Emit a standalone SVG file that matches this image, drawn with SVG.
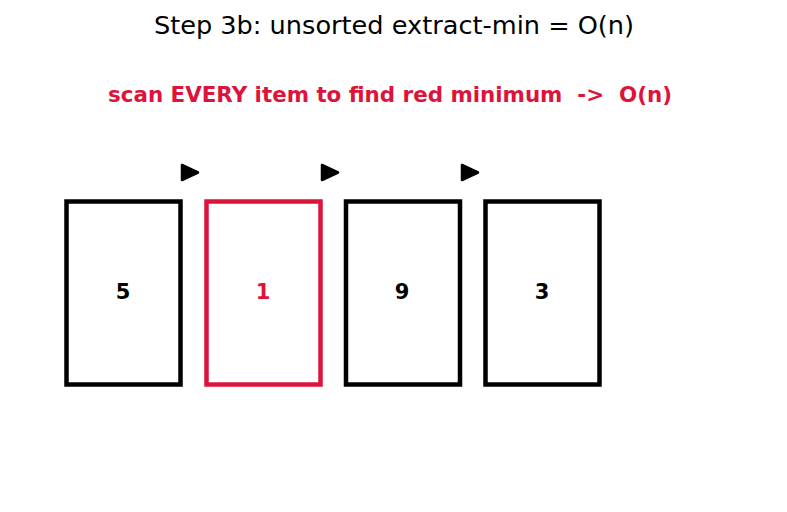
<svg xmlns="http://www.w3.org/2000/svg" width="787" height="512" viewBox="0 0 787 512">
<style>
.box{fill:#fff;stroke:#000;stroke-width:4.5}
.red{stroke:#DC143C}
.num{font-family:"DejaVu Sans",sans-serif;font-weight:bold;font-size:21px;text-anchor:middle;fill:#000}
.head{fill:#000;stroke:#000;stroke-width:2.5;stroke-linejoin:round}
</style>
<rect width="787" height="512" fill="#fff"/>
<text x="394" y="34" font-family="DejaVu Sans, sans-serif" font-size="25.6" text-anchor="middle" fill="#000">Step 3b: unsorted extract-min = O(n)</text>
<text x="390" y="102" font-family="DejaVu Sans, sans-serif" font-size="21.4" font-weight="bold" text-anchor="middle" fill="#DC143C" xml:space="preserve">scan EVERY item to find red minimum  -&gt;  O(n)</text>
<g id="connectors">
<polygon class="head" points="182,165 182,180 198,172.5"/>
<polygon class="head" points="322,165 322,180 338,172.5"/>
<polygon class="head" points="462,165 462,180 478,172.5"/>
</g>
<g id="node5"><rect class="box" x="66.5" y="201.5" width="114" height="183"/><text class="num" x="123" y="299">5</text></g>
<g id="node1"><rect class="box red" x="206.5" y="201.5" width="114" height="183"/><text class="num" x="263" y="299" style="fill:#DC143C">1</text></g>
<g id="node9"><rect class="box" x="346" y="201.5" width="114" height="183"/><text class="num" x="402" y="299">9</text></g>
<g id="node3"><rect class="box" x="485.5" y="201.5" width="114" height="183"/><text class="num" x="542" y="299">3</text></g>
</svg>
